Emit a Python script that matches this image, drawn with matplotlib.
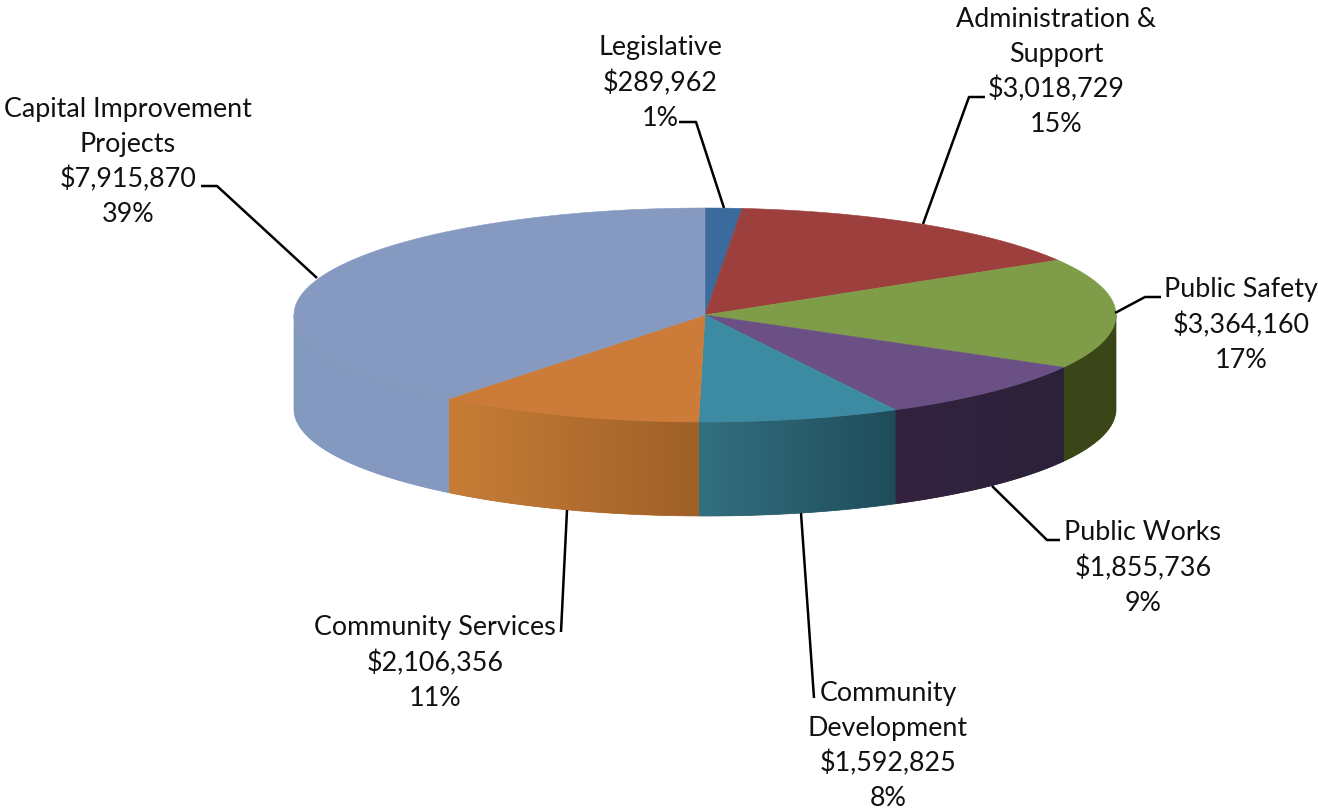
import numpy as np
import matplotlib
matplotlib.use("Agg")
import matplotlib.pyplot as plt
from matplotlib.patches import Polygon

# budget by department, clockwise from 12 o'clock
names = ["Legislative", "Administration &\nSupport", "Public Safety", "Public Works",
         "Community\nDevelopment", "Community Services", "Capital Improvement\nProjects"]
amounts = [289962, 3018729, 3364160, 1855736, 1592825, 2106356, 7915870]
percents = [1, 15, 17, 9, 8, 11, 39]

top_colors = ["#3b6a9c", "#9c3f3d", "#7f9d48", "#6b5085", "#3d8ba3", "#cc7c38", "#869ac1"]
side_start = ["#3b6a9c", "#9c3f3d", "#3a4618", "#33233f", "#33707f", "#c77d36", "#8499c0"]
side_end = ["#3b6a9c", "#9c3f3d", "#3a4618", "#2b2139", "#1f4c5b", "#9f6028", "#869ac1"]

label_x = [660, 1056, 1241, 1143, 888, 435, 128]
label_y = [83, 72, 325, 568, 746, 663, 162]

# leader lines, pixel positions on the page
leaders = [
    [(679, 122), (696, 122), (724, 208)],
    [(985, 97), (969, 97), (923, 224)],
    [(1161, 297), (1145, 297), (1115, 313)],
    [(992, 486), (1047, 540), (1060, 540)],
    [(801, 513), (814, 698)],
    [(567, 510), (561, 632)],
    [(317, 278), (217, 186), (201, 186)],
]

cx, cy = 705, 315
rx, ry = 411, 107
depth = 94


def ellipse_pts(a):
    # angles run clockwise from the top of the pie
    return cx + rx * np.sin(a), cy - ry * np.cos(a)


fig = plt.figure(figsize=(13.18, 8.09), dpi=100)
ax = fig.add_axes([0, 0, 1, 1])

amounts_arr = np.array(amounts, dtype=float)
edges = np.concatenate([[0], np.cumsum(amounts_arr)]) / amounts_arr.sum() * 2 * np.pi

# side walls first, only the front half can be seen
for i in range(len(amounts)):
    lo = max(edges[i], np.pi / 2)
    hi = min(edges[i + 1], 3 * np.pi / 2)
    if hi <= lo:
        continue
    a = np.linspace(lo, hi, 200)
    xs, ys = ellipse_pts(a)
    outline = list(zip(xs, ys)) + list(zip(xs[::-1], ys[::-1] + depth))
    c0 = np.array(matplotlib.colors.to_rgb(side_start[i]))
    c1 = np.array(matplotlib.colors.to_rgb(side_end[i]))
    # solid base under the gradient keeps the clipped edges from showing white
    wall = Polygon(outline, closed=True, fc=(c0 + c1) / 2, ec=(c0 + c1) / 2, lw=0.5, zorder=1)
    ax.add_patch(wall)
    # shading runs left to right across the wall
    t = np.linspace(0, 1, 256)[:, None]
    grad = (c0 + (c1 - c0) * t)[None, :, :]
    im = ax.imshow(grad, extent=(xs.min(), xs.max(), ys.max() + depth, ys.min()),
                   aspect="auto", interpolation="bilinear", zorder=2)
    im.set_clip_path(wall)

# top face
for i in range(len(amounts)):
    a = np.linspace(edges[i], edges[i + 1], 200)
    xs, ys = ellipse_pts(a)
    pts = [(cx, cy)] + list(zip(xs, ys))
    ax.add_patch(Polygon(pts, closed=True, fc=top_colors[i], ec=top_colors[i], lw=0.4, zorder=3))

for pts in leaders:
    ax.plot([p[0] for p in pts], [p[1] for p in pts], color="black", lw=1.8,
            solid_capstyle="butt", zorder=4)

for i in range(len(names)):
    label = f"{names[i]}\n${amounts[i]:,}\n{percents[i]}%"
    ax.text(label_x[i], label_y[i], label, ha="center", va="center", family="Lato",
            fontsize=19.4, color="#111111", linespacing=1.46, zorder=5)

ax.set_xlim(0, 1318)
ax.set_ylim(809, 0)
ax.axis("off")

fig.savefig("out.png", dpi=100)
